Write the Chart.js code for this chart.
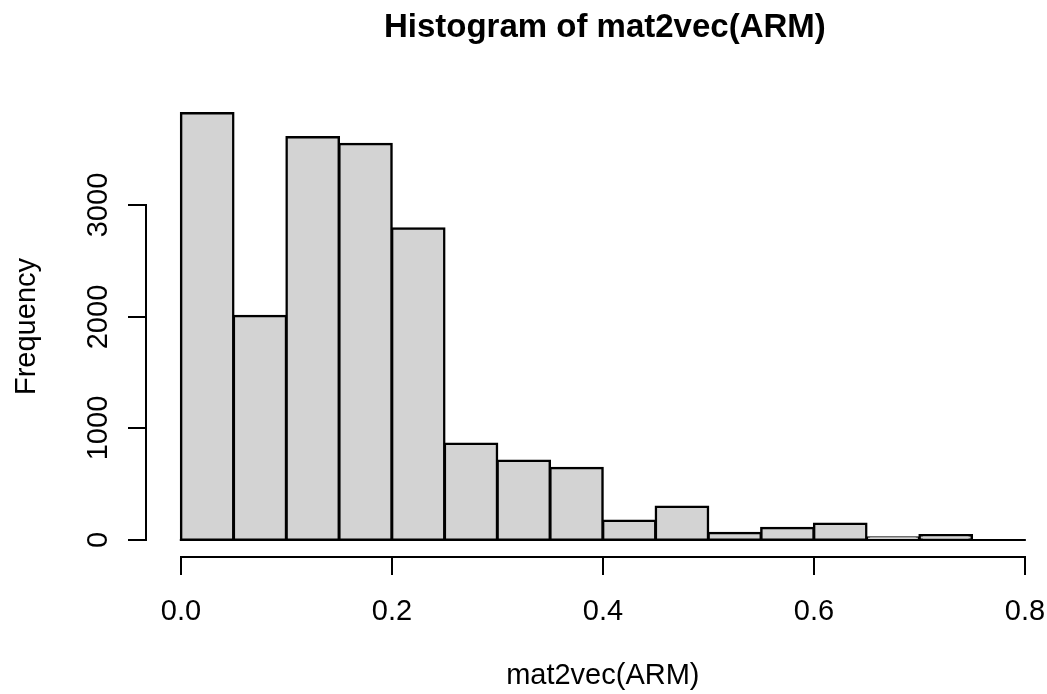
<!DOCTYPE html>
<html>
<head>
<meta charset="utf-8">
<script src="https://cdn.jsdelivr.net/npm/chart.js@4"></script>
<style>
html, body { margin: 0; padding: 0; background: #fff; }
#wrap { width: 1047px; height: 694px; position: relative; }
</style>
</head>
<body>
<div id="wrap"><canvas id="histChart"></canvas></div>
<script>
// histogram bins (edges) and counts
const breaks = [0, 0.05, 0.1, 0.15, 0.2, 0.25, 0.3, 0.35, 0.4, 0.45, 0.5, 0.55, 0.6, 0.65, 0.7, 0.75, 0.8];
const counts = [3821, 2007, 3606, 3547, 2789, 864, 712, 646, 175, 300, 64, 109, 148, 25, 43, 0];

const xTickValues = [0, 0.2, 0.4, 0.6, 0.8];
const xTickLabels = ["0.0", "0.2", "0.4", "0.6", "0.8"];
const yTickValues = [0, 1000, 2000, 3000];
const yTickLabels = ["0", "1000", "2000", "3000"];

const chartTitle = "Histogram of mat2vec(ARM)";
const xTitle = "mat2vec(ARM)";
const yTitle = "Frequency";

const FONT = "'Liberation Sans', Arial, Helvetica, sans-serif";

const mids = counts.map((c, i) => ({ x: (breaks[i] + breaks[i + 1]) / 2, y: c }));

// R style axes, drawn from the chart's own scales
const rAxes = {
    id: "rAxes",
    afterDatasetsDraw(chart) {
        const { ctx, scales: { x, y } } = chart;
        const y0 = Math.round(y.getPixelForValue(0));
        ctx.save();
        ctx.strokeStyle = "#000";
        ctx.lineWidth = 2;
        ctx.beginPath();
        ctx.moveTo(x.getPixelForValue(breaks[0]) - 1, y0);
        ctx.lineTo(x.getPixelForValue(breaks[breaks.length - 1]) + 1, y0);
        ctx.stroke();
        ctx.restore();
    },
    afterDraw(chart) {
        const { ctx, chartArea, scales: { x, y } } = chart;
        const tick = 18;
        ctx.save();
        ctx.strokeStyle = "#000";
        ctx.fillStyle = "#000";
        ctx.lineWidth = 2;

        // x axis
        const ax = Math.round(chartArea.bottom);
        const xs = xTickValues.map(v => Math.round(x.getPixelForValue(v)));
        ctx.beginPath();
        ctx.moveTo(xs[0] - 1, ax);
        ctx.lineTo(xs[xs.length - 1] + 1, ax);
        xs.forEach(px => { ctx.moveTo(px, ax); ctx.lineTo(px, ax + tick); });
        ctx.stroke();

        ctx.font = "29px " + FONT;
        ctx.textAlign = "center";
        ctx.textBaseline = "alphabetic";
        xs.forEach((px, i) => ctx.fillText(xTickLabels[i], px, ax + 63));

        // y axis
        const ay = Math.round(chartArea.left);
        const ys = yTickValues.map(v => Math.round(y.getPixelForValue(v)));
        ctx.beginPath();
        ctx.moveTo(ay, ys[0] + 1);
        ctx.lineTo(ay, ys[ys.length - 1] - 1);
        ys.forEach(py => { ctx.moveTo(ay, py); ctx.lineTo(ay - tick, py); });
        ctx.stroke();

        ys.forEach((py, i) => {
            ctx.save();
            ctx.translate(ay - 39, py);
            ctx.rotate(-Math.PI / 2);
            ctx.fillText(yTickLabels[i], 0, 0);
            ctx.restore();
        });

        // titles, centred on the plot region like R does
        const midX = x.getPixelForValue((breaks[0] + breaks[breaks.length - 1]) / 2);
        ctx.fillText(xTitle, midX, 684);

        ctx.save();
        ctx.translate(ay - 111, (chartArea.top + chartArea.bottom) / 2);
        ctx.rotate(-Math.PI / 2);
        ctx.fillText(yTitle, 0, 0);
        ctx.restore();

        ctx.font = "bold 33px " + FONT;
        ctx.fillText(chartTitle, midX + 2, 37);
        ctx.restore();
    }
};

const ctx = document.getElementById("histChart").getContext("2d");
const yMax = Math.max(...counts);

new Chart(ctx, {
    type: "bar",
    data: {
        datasets: [{
            label: "Frequency",
            data: mids,
            backgroundColor: "#d3d3d3",
            borderColor: "#000",
            borderWidth: 2.5,
            borderSkipped: false,
            inflateAmount: 1,
            barPercentage: 1,
            categoryPercentage: 1
        }]
    },
    options: {
        responsive: true,
        maintainAspectRatio: false,
        animation: false,
        layout: { padding: { left: 146, right: 0, top: 96, bottom: 137 } },
        plugins: {
            legend: { display: false },
            tooltip: { enabled: false },
            title: { display: false }
        },
        scales: {
            x: {
                type: "linear",
                offset: false,
                min: -0.033,
                max: 0.821,
                display: false
            },
            y: {
                min: -0.04 * yMax,
                max: 1.04 * yMax,
                display: false
            }
        }
    },
    plugins: [rAxes]
});
</script>
</body>
</html>
